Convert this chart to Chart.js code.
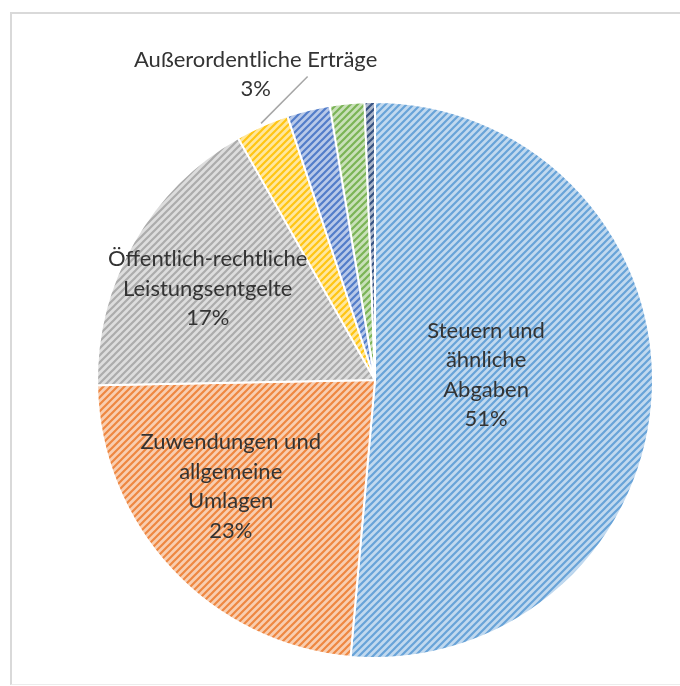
<!DOCTYPE html>
<html lang="de">
<head>
<meta charset="utf-8">
<title>Ertragsstruktur</title>
<script src="https://cdn.jsdelivr.net/npm/chart.js@4.4.1/dist/chart.umd.min.js"></script>
<style>
  html, body { margin: 0; padding: 0; background: #fff; }
  #wrap { position: relative; width: 680px; height: 686px; overflow: hidden; }
  #frame {
    position: absolute; left: 10px; top: 12px; width: 700px; height: 670px;
    border-left: 2px solid #d9d9d9; border-top: 2px solid #d9d9d9; border-bottom: 1px solid #ececec;
  }
  #chart { position: absolute; left: 0; top: 0; }
</style>
</head>
<body>
<div id="wrap">
  <div id="frame"></div>
  <canvas id="chart" width="680" height="686"></canvas>
</div>
<script>
// Ertragsarten (Anteile in %)
const categories = [
  'Steuern und ähnliche Abgaben',
  'Zuwendungen und allgemeine Umlagen',
  'Öffentlich-rechtliche Leistungsentgelte',
  'Außerordentliche Erträge',
  'Kostenerstattungen und Kostenumlagen',
  'Sonstige ordentliche Erträge',
  'Finanzerträge'
];
const shares = [51.4, 23.3, 17.1, 3.1, 2.5, 2.0, 0.6];

// Zeilenumbruch der Beschriftungen (null = keine Beschriftung)
const labelLines = [
  ['Steuern und', 'ähnliche', 'Abgaben'],
  ['Zuwendungen und', 'allgemeine', 'Umlagen'],
  ['Öffentlich-rechtliche', 'Leistungsentgelte'],
  ['Außerordentliche Erträge'],
  null, null, null
];

const baseColors = ['#5b9bd5', '#ed7d31', '#a5a5a5', '#ffc000', '#4472c4', '#70ad47', '#264478'];

// Platzierung der Beschriftung: Radiusfaktor, Winkelversatz (Grad), außen mit Führungslinie
const labelPlace = [
  { f: 0.40, da: -5.1 },
  { f: 0.645, da: 6.6 },
  { f: 0.686, da: -1.0 },
  { f: 1.18, da: 2.6, outside: true }
];

function tint(hex, amount) {
  const n = parseInt(hex.slice(1), 16);
  const r = n >> 16, g = (n >> 8) & 255, b = n & 255;
  const m = c => Math.round(c + (255 - c) * amount);
  return `rgb(${m(r)},${m(g)},${m(b)})`;
}

// diagonale Schraffur wie im Office-Muster
function hatch(hex) {
  const s = 7;
  const c = document.createElement('canvas');
  c.width = s; c.height = s;
  const x = c.getContext('2d');
  x.fillStyle = tint(hex, 0.62);
  x.fillRect(0, 0, s, s);
  x.strokeStyle = tint(hex, 0.08);
  x.lineWidth = 2.2;
  x.beginPath();
  x.moveTo(-1, s + 1); x.lineTo(s + 1, -1);
  x.moveTo(-1, 1); x.lineTo(1, -1);
  x.moveTo(s - 1, s + 1); x.lineTo(s + 1, s - 1);
  x.stroke();
  return x.createPattern(c, 'repeat');
}

const sliceLabels = {
  id: 'sliceLabels',
  afterDatasetsDraw(chart) {
    const ctx = chart.ctx;
    const meta = chart.getDatasetMeta(0);
    const data = chart.data.datasets[0].data;
    const total = data.reduce((a, b) => a + b, 0);
    const lh = 29.5;
    ctx.save();
    ctx.font = '22px Lato, "Open Sans", sans-serif';
    ctx.fillStyle = '#333333';
    ctx.textAlign = 'center';
    ctx.textBaseline = 'middle';
    meta.data.forEach((arc, i) => {
      const lines = labelLines[i];
      const place = labelPlace[i];
      if (!lines || !place) return;
      const p = arc.getProps(['x', 'y', 'startAngle', 'endAngle', 'outerRadius'], true);
      const mid = (p.startAngle + p.endAngle) / 2;
      const a = mid + place.da * Math.PI / 180;
      const cx = p.x + Math.cos(a) * p.outerRadius * place.f;
      const cy = p.y + Math.sin(a) * p.outerRadius * place.f;
      const all = lines.concat([Math.round(data[i] / total * 100) + '%']);
      const y0 = cy - (all.length - 1) * lh / 2;
      all.forEach((t, k) => ctx.fillText(t, cx, y0 + k * lh));
      if (place.outside) {
        ctx.strokeStyle = '#a6a6a6';
        ctx.lineWidth = 1.5;
        ctx.beginPath();
        ctx.moveTo(p.x + Math.cos(mid) * p.outerRadius * 1.01, p.y + Math.sin(mid) * p.outerRadius * 1.01);
        ctx.lineTo(cx + 52, cy + 2);
        ctx.stroke();
      }
    });
    ctx.restore();
  }
};

new Chart(document.getElementById('chart'), {
  type: 'pie',
  data: {
    labels: categories,
    datasets: [{
      data: shares,
      backgroundColor: baseColors.map(hatch),
      borderColor: '#ffffff',
      borderWidth: 2,
      hoverOffset: 0
    }]
  },
  options: {
    responsive: false,
    animation: false,
    layout: { padding: { left: 75, right: 5, top: 101, bottom: 27 } },
    plugins: {
      legend: { display: false },
      tooltip: { enabled: false }
    }
  },
  plugins: [sliceLabels]
});
</script>
</body>
</html>
